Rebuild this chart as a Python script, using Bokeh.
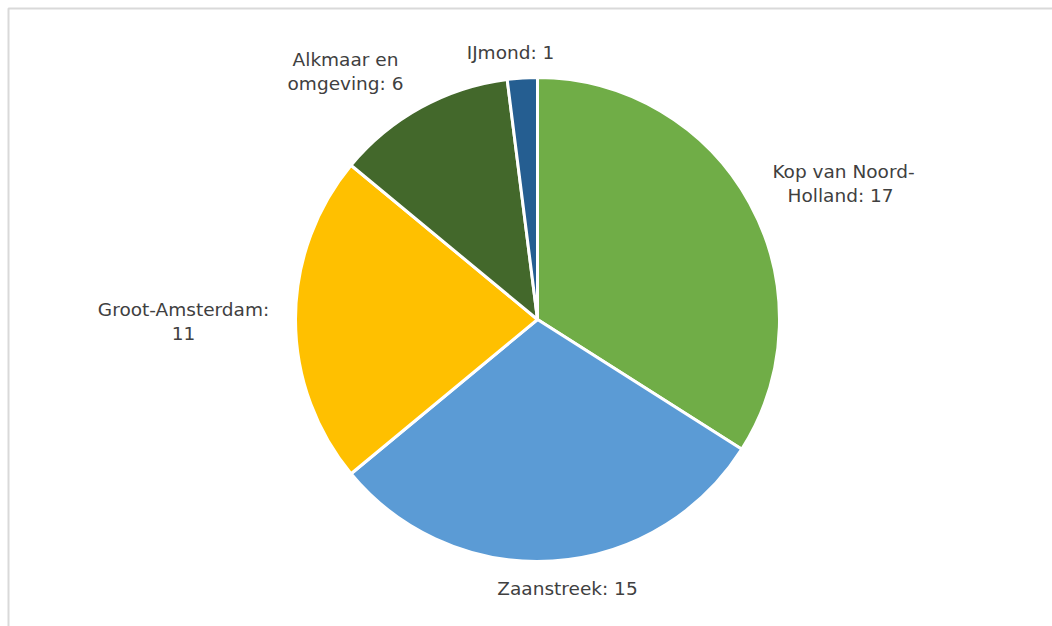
import numpy as np
from bokeh.plotting import figure
from bokeh.models import Range1d, ColumnDataSource, BoxAnnotation
from bokeh.core.properties import value
from bokeh.embed import file_html
from bokeh.resources import INLINE

# ---- data ----
regions = ["Kop van Noord-Holland", "Zaanstreek", "Groot-Amsterdam", "Alkmaar en omgeving", "IJmond"]
counts = [17, 15, 11, 6, 1]
label_texts = ["Kop van Noord-\nHolland:  17", "Zaanstreek: 15", "Groot-Amsterdam:\n11",
               "Alkmaar en\nomgeving: 6", "IJmond: 1"]
colors = ["#70AD47", "#5B9BD5", "#FFC000", "#43682B", "#255E91"]

# ---- layout ----
W, H = 1052, 626
CX, CY = 537, 307
R = 242
label_offsets = [(306, 136), (30, -269), (-354, -2), (-192, 248), (-27, 267)]

vals = np.array(counts, dtype=float)
frac = vals / vals.sum()
cum = np.concatenate([[0], np.cumsum(frac)])
start = np.pi / 2 - cum[:-1] * 2 * np.pi
end = np.pi / 2 - cum[1:] * 2 * np.pi

src = ColumnDataSource(dict(region=regions, count=counts, start=start, end=end, color=colors,
                            x=[CX] * len(counts), y=[CY] * len(counts)))

p = figure(width=W, height=H, output_backend="svg", toolbar_location=None,
           x_range=Range1d(0, W), y_range=Range1d(0, H), min_border=0)
p.axis.visible = False
p.grid.visible = False
p.outline_line_color = None
p.background_fill_color = "white"
p.border_fill_color = "white"

p.wedge(x="x", y="y", radius=R, start_angle="start", end_angle="end", direction="clock",
        fill_color="color", line_color="white", line_width=3, source=src)

lsrc = ColumnDataSource(dict(
    x=[CX + dx for dx, dy in label_offsets],
    y=[CY + dy for dx, dy in label_offsets],
    text=label_texts))
p.text(x="x", y="y", text="text", source=lsrc, text_align="center", text_baseline="middle",
       text_font=value("DejaVu Sans"), text_font_size="18.5px", text_color="#404040",
       text_line_height=1.1)

p.add_layout(BoxAnnotation(left=8, bottom=-100, right=W + 100, top=H - 8,
                           fill_color=None, fill_alpha=0, line_color="#d9d9d9",
                           line_alpha=1.0, line_width=2))

open("out.html", "w").write(file_html(p, INLINE))
